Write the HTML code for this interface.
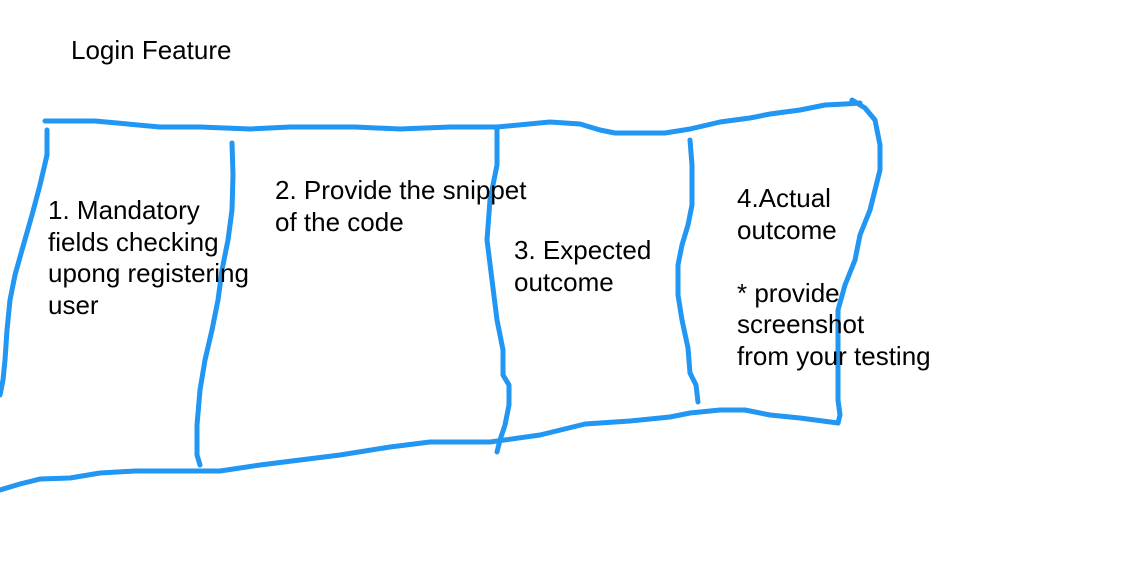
<!DOCTYPE html>
<html><head><meta charset="utf-8"><style>
html,body{margin:0;padding:0;background:#fff;width:1130px;height:572px;overflow:hidden}
svg{display:block}
text{font-family:"Liberation Sans",Arial,sans-serif;font-size:26px;fill:#000}
</style></head><body>
<svg width="1130" height="572" viewBox="0 0 1130 572">
<g fill="none" stroke="#2196F3" stroke-width="5" stroke-linecap="round" stroke-linejoin="round">
<polyline points="45,121 95,121 160,127 200,127 250,129 290,127 355,127 400,129 450,127 497,127 550,122 580,124 600,130 615,133 665,133 690,129 720,122 750,118 770,114 800,110 825,105 845,104 860,103"/>
<polyline points="852,100 865,108 875,120 880,145 880,170 870,210 860,235 855,260 845,285 838,310 838,400 840,415 838,423"/>
<polyline points="0,490 20,484 40,479 70,478 100,473 135,471 220,471 260,465 300,460 340,455 390,447 430,442 490,442 540,435 585,424 630,421 670,417 690,413 720,410 745,410 770,415 800,418 838,423"/>
<polyline points="47,130 47,155 40,185 32,215 22,250 15,275 10,300 7,330 5,360 3,380 0,395"/>
<polyline points="232,143 233,175 232,210 228,240 222,270 218,300 212,330 205,360 200,390 197,425 197,455 200,465"/>
<polyline points="497,127 497,165 490,200 487,240 492,280 497,320 503,350 503,375 509,385 509,405 505,425 500,440 497,452"/>
<polyline points="690,140 692,165 692,205 688,225 682,245 678,265 678,295 682,320 688,348 690,373 696,385 698,402"/>
</g>
<text x="71" y="59">Login Feature</text>
<text x="48" y="219">1. Mandatory</text>
<text x="48" y="251">fields checking</text>
<text x="48" y="282">upong registering</text>
<text x="48" y="314">user</text>
<text x="275" y="199">2. Provide the snippet</text>
<text x="275" y="231">of the code</text>
<text x="514" y="259">3. Expected</text>
<text x="514" y="291">outcome</text>
<text x="737" y="207">4.Actual</text>
<text x="737" y="239">outcome</text>
<text x="737" y="302">* provide</text>
<text x="737" y="333">screenshot</text>
<text x="737" y="365">from your testing</text>
</svg>
</body></html>
